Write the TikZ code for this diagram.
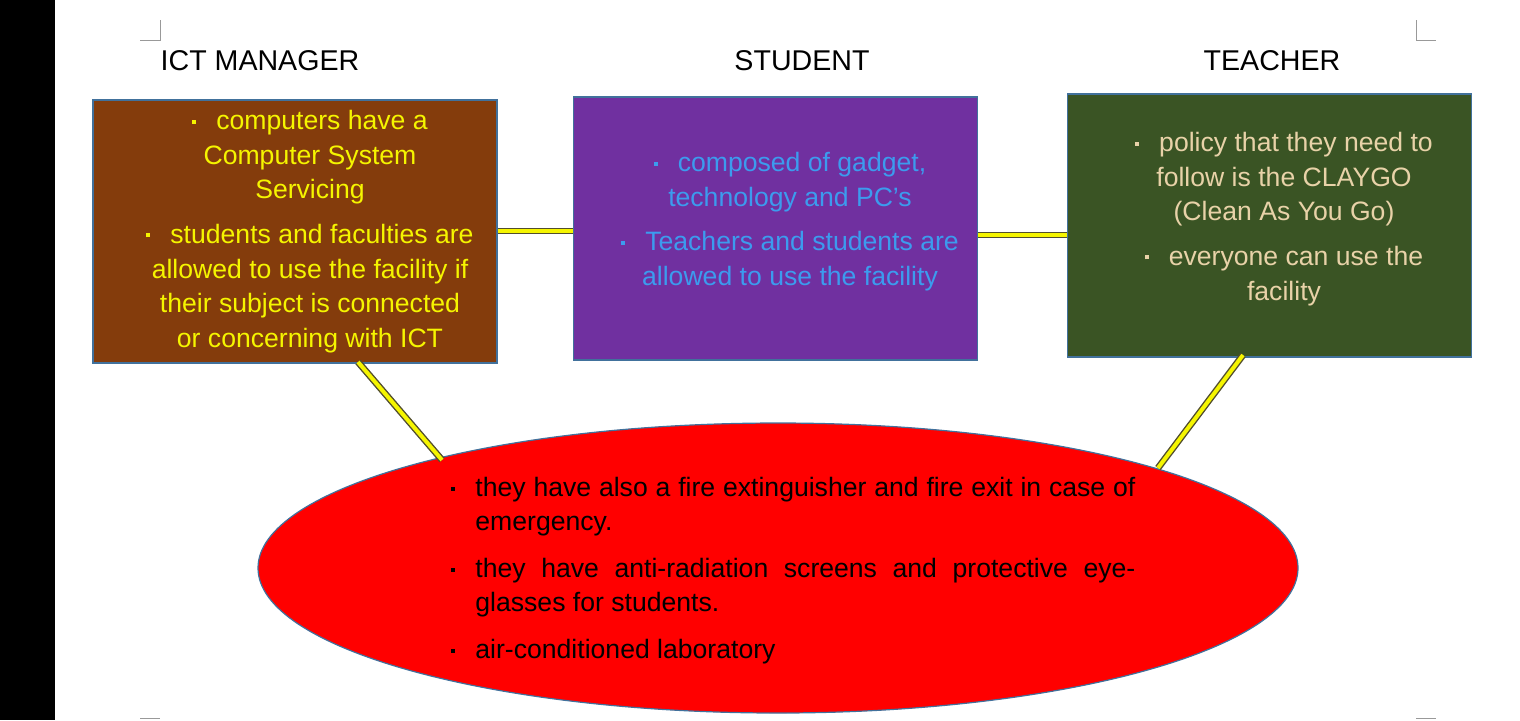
\documentclass[tikz,border=0pt]{standalone}
\usepackage{fontspec}
\setmainfont{Liberation Sans}
\usetikzlibrary{shapes.geometric}
\definecolor{ictBrown}{HTML}{843C0C}
\definecolor{stuPurple}{HTML}{7030A0}
\definecolor{teaGreen}{HTML}{3A5424}
\definecolor{stuBlue}{HTML}{3C9BEE}
\definecolor{teaTan}{HTML}{E8D2A8}
\definecolor{labYellow}{HTML}{F5F500}
\definecolor{edgeGray}{HTML}{41719C}
\newcommand{\bul}{\raisebox{3pt}{\rule{2pt}{2pt}}\hspace{10pt}}
\tikzset{
  box/.style = {rectangle, draw=edgeGray, line width=0.6pt, minimum width=202pt, minimum height=131.5pt},
  boxtxt/.style = {anchor=north, align=center, inner sep=0pt, font=\fontsize{13.3}{17.3}\selectfont},
  head/.style = {font=\fontsize{14.3}{16}\selectfont},
  link/.style = {draw=black!55!olive, double=labYellow, double distance=2pt, line width=0.7pt}
}
\begin{document}
\begin{tikzpicture}[x=0.5pt,y=-0.5pt]
  \useasboundingbox (0,0) rectangle (1520,720);
  \fill[black] (0,0) rectangle (55,720);
  % corner marks
  \draw[black!40, line width=0.4pt] (140,40) -- (160,40) -- (160,20);
  \draw[black!40, line width=0.4pt] (1416,20) -- (1416,40) -- (1436,40);
  \draw[black!40, line width=0.4pt] (140,718) -- (160,718);
  \draw[black!40, line width=0.4pt] (1416,718) -- (1436,718);
  \node(hICT) [head] at (260,61) {ICT MANAGER};
  \node(hSTU) [head] at (802,61) {STUDENT};
  \node(hTEA) [head] at (1272,61) {TEACHER};
  \node(lab) [ellipse, draw=edgeGray, line width=0.6pt, fill=red, minimum width=520pt, minimum height=145pt, inner sep=0pt] at (778,568) {};
  \node(ict) [box, fill=ictBrown] at (295,231.5) {};
  \node(stu) [box, fill=stuPurple] at (775.5,228.5) {};
  \node(tea) [box, fill=teaGreen] at (1269.5,225.5) {};
  \node(ictTxt) [boxtxt, text=labYellow] at (310,110) {%
    \bul computers have a\\ Computer System\\ Servicing\\[5pt]
    \bul students and faculties are\\ allowed to use the facility if\\ their subject is connected\\ or concerning with ICT};
  \node(stuTxt) [boxtxt, text=stuBlue] at (790,152) {%
    \bul composed of gadget,\\ technology and PC’s\\[5pt]
    \bul Teachers and students are\\ allowed to use the facility};
  \node(teaTxt) [boxtxt, text=teaTan] at (1284,132) {%
    \bul policy that they need to\\ follow is the CLAYGO\\ (Clean As You Go)\\[5pt]
    \bul everyone can use the\\ facility};
  \node(labTxt) [anchor=north west, inner sep=0pt, text width=330pt, align=justify, font=\fontsize{13.3}{17}\selectfont] at (475,477) {%
    \noindent\llap{\bul}they have also a fire extinguisher and fire exit in case of emergency.\par\vspace{6.5pt}
    \noindent\llap{\bul}they have anti-radiation screens and protective eyeglasses for students.\par\vspace{6.5pt}
    \noindent\llap{\bul}air-conditioned laboratory\par};
  \draw[link] (ict.east |- 0,231) -- (stu.west |- 0,231);
  \draw[link] (stu.east |- 0,235) -- (tea.west |- 0,235);
  \draw[link] (358,362) -- (442,460);
  \draw[link] (1243,355) -- (1158,468);
\end{tikzpicture}
\end{document}
